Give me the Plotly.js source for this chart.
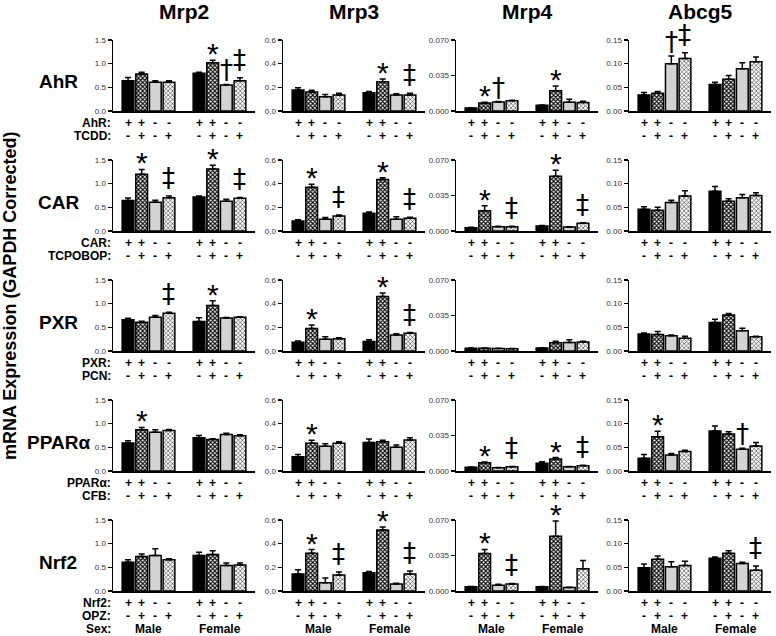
<!DOCTYPE html>
<html><head><meta charset="utf-8">
<script src="https://cdn.plot.ly/plotly-3.0.1.min.js"></script>
<style>body{margin:0;background:#fff}#chart{width:776px;height:636px}</style>
</head><body><div id="chart"></div>
<script>
// ---------- DATA ----------
const genes = ['Mrp2', 'Mrp3', 'Mrp4', 'Abcg5'];
const receptors = ['AhR', 'CAR', 'PXR', 'PPARα', 'Nrf2'];
const ligands = ['TCDD', 'TCPOBOP', 'PCN', 'CFB', 'OPZ'];
const sexes = ['Male', 'Female'];
const genotypeSigns = ['+', '+', '-', '-'];
const ligandSigns = ['-', '+', '-', '+'];
const yMax = [1.5, 0.6, 0.07, 0.15];
const yTickVals = [[0, 0.5, 1.0, 1.5], [0, 0.2, 0.4, 0.6], [0, 0.035, 0.07], [0, 0.05, 0.10, 0.15]];
const yTickText = [['0.0', '0.5', '1.0', '1.5'], ['0.0', '0.2', '0.4', '0.6'], ['0.000', '0.035', '0.070'], ['0.00', '0.05', '0.10', '0.15']];

// each inner array: 8 bars = Male (4 groups) then Female (4 groups); one inner array per gene
const AhR_mean = [
  [0.64, 0.78, 0.61, 0.61, 0.80, 1.02, 0.55, 0.64],
  [0.177, 0.16, 0.12, 0.135, 0.155, 0.248, 0.135, 0.135],
  [0.003, 0.008, 0.0089, 0.0102, 0.0056, 0.020, 0.0086, 0.0083],
  [0.034, 0.0375, 0.100, 0.111, 0.056, 0.067, 0.089, 0.104]];
const AhR_sem = [
  [0.07, 0.04, 0.03, 0.03, 0.02, 0.05, 0.01, 0.06],
  [0.02, 0.015, 0.02, 0.015, 0.01, 0.022, 0.01, 0.015],
  [0.0003, 0.0006, 0.0004, 0.0004, 0.0004, 0.0046, 0.0029, 0.0012],
  [0.005, 0.0035, 0.016, 0.012, 0.005, 0.008, 0.013, 0.010]];
const AhR_sig = [
  ['', '', '', '', '', '*', '†', '‡'],
  ['', '', '', '', '', '*', '', '‡'],
  ['', '*', '†', '', '', '*', '', ''],
  ['', '', '†', '‡', '', '', '', '']];

const CAR_mean = [
  [0.646, 1.20, 0.61, 0.70, 0.72, 1.31, 0.63, 0.69],
  [0.085, 0.37, 0.10, 0.127, 0.15, 0.435, 0.10, 0.107],
  [0.0033, 0.020, 0.0043, 0.0043, 0.005, 0.054, 0.004, 0.0076],
  [0.046, 0.044, 0.060, 0.074, 0.084, 0.063, 0.070, 0.075]];
const CAR_sem = [
  [0.05, 0.10, 0.04, 0.04, 0.02, 0.08, 0.04, 0.02],
  [0.01, 0.025, 0.015, 0.008, 0.01, 0.015, 0.02, 0.01],
  [0.0003, 0.005, 0.0003, 0.0003, 0.0003, 0.006, 0.0003, 0.0005],
  [0.005, 0.006, 0.005, 0.011, 0.010, 0.005, 0.007, 0.006]];
const CAR_sig = [
  ['', '*', '', '‡', '', '*', '', '‡'],
  ['', '*', '', '‡', '', '*', '', '‡'],
  ['', '*', '', '‡', '', '*', '', '‡'],
  ['', '', '', '', '', '', '', '']];

const PXR_mean = [
  [0.66, 0.61, 0.715, 0.80, 0.625, 0.96, 0.695, 0.715],
  [0.074, 0.19, 0.10, 0.104, 0.08, 0.46, 0.136, 0.15],
  [0.0027, 0.0027, 0.0025, 0.0022, 0.003, 0.0082, 0.0085, 0.0088],
  [0.036, 0.035, 0.032, 0.027, 0.060, 0.076, 0.043, 0.030]];
const PXR_sem = [
  [0.03, 0.02, 0.035, 0.02, 0.075, 0.10, 0.015, 0.01],
  [0.011, 0.03, 0.02, 0.008, 0.015, 0.03, 0.01, 0.006],
  [0.0003, 0.0003, 0.0002, 0.0002, 0.0003, 0.0014, 0.0025, 0.0008],
  [0.002, 0.006, 0.002, 0.004, 0.007, 0.003, 0.005, 0.001]];
const PXR_sig = [
  ['', '', '', '‡', '', '*', '', ''],
  ['', '*', '', '', '', '*', '', '‡'],
  ['', '', '', '', '', '', '', ''],
  ['', '', '', '', '', '', '', '']];

const PPARa_mean = [
  [0.59, 0.87, 0.82, 0.855, 0.70, 0.667, 0.77, 0.745],
  [0.12, 0.234, 0.21, 0.235, 0.24, 0.248, 0.20, 0.262],
  [0.0036, 0.0082, 0.0033, 0.0042, 0.0076, 0.0118, 0.0043, 0.0052],
  [0.027, 0.0725, 0.034, 0.041, 0.0845, 0.078, 0.046, 0.053]];
const PPARa_sem = [
  [0.05, 0.05, 0.05, 0.02, 0.05, 0.013, 0.03, 0.02],
  [0.02, 0.026, 0.02, 0.012, 0.03, 0.012, 0.02, 0.018],
  [0.0004, 0.0006, 0.0002, 0.0003, 0.0014, 0.0015, 0.0002, 0.0004],
  [0.008, 0.0115, 0.003, 0.003, 0.0105, 0.005, 0.002, 0.007]];
const PPARa_sig = [
  ['', '*', '', '', '', '', '', ''],
  ['', '*', '', '', '', '', '', ''],
  ['', '*', '', '‡', '', '*', '', '‡'],
  ['', '*', '', '', '', '', '†', '']];

const Nrf2_mean = [
  [0.61, 0.73, 0.75, 0.66, 0.75, 0.77, 0.54, 0.55],
  [0.144, 0.32, 0.07, 0.135, 0.155, 0.515, 0.06, 0.144],
  [0.0042, 0.037, 0.0056, 0.0069, 0.0042, 0.054, 0.0035, 0.022],
  [0.049, 0.067, 0.051, 0.054, 0.069, 0.080, 0.058, 0.044]];
const Nrf2_sem = [
  [0.05, 0.05, 0.14, 0.02, 0.07, 0.08, 0.05, 0.04],
  [0.036, 0.03, 0.04, 0.025, 0.01, 0.025, 0.005, 0.026],
  [0.0003, 0.004, 0.001, 0.0006, 0.0003, 0.015, 0.0003, 0.008],
  [0.008, 0.007, 0.011, 0.009, 0.003, 0.005, 0.003, 0.009]];
const Nrf2_sig = [
  ['', '', '', '', '', '', '', ''],
  ['', '*', '', '‡', '', '*', '', '‡'],
  ['', '*', '', '‡', '', '*', '', ''],
  ['', '', '', '', '', '', '', '‡']];

const allMeans = [AhR_mean, CAR_mean, PXR_mean, PPARa_mean, Nrf2_mean];
const allSems = [AhR_sem, CAR_sem, PXR_sem, PPARa_sem, Nrf2_sem];
const allSigs = [AhR_sig, CAR_sig, PXR_sig, PPARa_sig, Nrf2_sig];

// ---------- LAYOUT GEOMETRY ----------
const W = 776, H = 636;
const FONT = 'Arial, "Liberation Sans", Helvetica, sans-serif';
const SYMFONT = '"DejaVu Sans", "Liberation Sans", sans-serif';
const colLeft = [113, 283, 456, 629];
const panelW = 142;
const rowBottom = [111, 231, 351, 471, 591];
const panelH = 71;
const barX = [1, 2, 3, 4, 6.2, 7.2, 8.2, 9.2];
const barStyles = [
  {color: 'black'},
  {color: 'white', pattern: {shape: 'x', fgcolor: 'black', bgcolor: 'white', size: 3, solidity: 0.6}},
  {color: '#d3d3d3'},
  {color: 'white', pattern: {shape: 'x', fgcolor: 'black', bgcolor: 'white', size: 3, solidity: 0.3}}
];
const symStyle = {
  '*': {size: 30, shift: -12, fam: FONT},
  '†': {size: 26, shift: -3, fam: SYMFONT},
  '‡': {size: 26, shift: 1, fam: SYMFONT}
};

const data = [];
const annotations = [];
const layout = {
  width: W, height: H,
  margin: {l: 0, r: 0, t: 0, b: 0},
  paper_bgcolor: 'white', plot_bgcolor: 'white',
  showlegend: false, barmode: 'overlay',
  font: {family: FONT, color: 'black'},
  annotations: annotations
};

const px = v => v / W;
const py = v => 1 - v / H;

for (let r = 0; r < receptors.length; r++) {
  for (let c = 0; c < genes.length; c++) {
    const i = r * genes.length + c + 1;
    const sfx = i === 1 ? '' : String(i);
    const xa = 'x' + sfx, ya = 'y' + sfx;
    const mean = allMeans[r][c], sem = allSems[r][c], sig = allSigs[r][c];
    for (let t = 0; t < 4; t++) {
      const st = barStyles[t];
      const marker = {color: st.color, line: {color: 'black', width: 1.5}};
      if (st.pattern) marker.pattern = st.pattern;
      data.push({
        type: 'bar', xaxis: xa, yaxis: ya,
        x: [barX[t], barX[t + 4]], y: [mean[t], mean[t + 4]],
        width: 0.86, marker: marker, cliponaxis: false,
        error_y: {type: 'data', symmetric: false, array: [sem[t], sem[t + 4]], arrayminus: [0, 0],
                  color: 'black', thickness: 1.5, width: 3},
        hoverinfo: 'y'
      });
    }
    const L = colLeft[c], B = rowBottom[r];
    layout['xaxis' + sfx] = {
      domain: [px(L), px(L + panelW)], range: [-0.1, 10.3], anchor: ya,
      showline: true, linewidth: 2, linecolor: 'black', ticks: '', showticklabels: false,
      showgrid: false, zeroline: false, fixedrange: true
    };
    layout['yaxis' + sfx] = {
      domain: [py(B), py(B - panelH)], range: [0, yMax[c]], anchor: xa,
      tickmode: 'array', tickvals: yTickVals[c], ticktext: yTickText[c],
      ticks: 'outside', ticklen: 4, tickwidth: 1.5, tickcolor: 'black',
      showline: true, linewidth: 1.5, linecolor: 'black',
      showgrid: false, zeroline: false, fixedrange: true,
      tickfont: {size: 8, color: '#333', family: FONT}
    };
    // significance marks
    for (let j = 0; j < 8; j++) {
      if (!sig[j]) continue;
      const s = symStyle[sig[j]];
      annotations.push({
        xref: xa, yref: ya, x: barX[j], y: mean[j] + sem[j], text: sig[j],
        showarrow: false, yanchor: 'bottom', xanchor: 'center', yshift: s.shift,
        font: {size: s.size, family: s.fam, color: 'black'}
      });
    }
    // treatment sign rows
    for (let j = 0; j < 8; j++) {
      annotations.push({xref: xa, yref: 'paper', x: barX[j], y: py(B + 12), text: genotypeSigns[j % 4],
        showarrow: false, xanchor: 'center', yanchor: 'middle', font: {size: 12, weight: 'bold', family: FONT}});
      annotations.push({xref: xa, yref: 'paper', x: barX[j], y: py(B + 25), text: ligandSigns[j % 4],
        showarrow: false, xanchor: 'center', yanchor: 'middle', font: {size: 12, weight: 'bold', family: FONT}});
    }
    if (r === receptors.length - 1) {
      annotations.push({xref: xa, yref: 'paper', x: (barX[0] + barX[3]) / 2, y: py(B + 38), text: sexes[0],
        showarrow: false, xanchor: 'center', yanchor: 'middle', font: {size: 12, weight: 'bold', family: FONT}});
      annotations.push({xref: xa, yref: 'paper', x: (barX[4] + barX[7]) / 2, y: py(B + 38), text: sexes[1],
        showarrow: false, xanchor: 'center', yanchor: 'middle', font: {size: 12, weight: 'bold', family: FONT}});
    }
  }
  const B = rowBottom[r];
  // row labels
  annotations.push({xref: 'paper', yref: 'paper', x: px(58), y: py(B - 29), text: receptors[r],
    showarrow: false, xanchor: 'center', yanchor: 'middle', font: {size: 19, weight: 'bold', family: FONT}});
  annotations.push({xref: 'paper', yref: 'paper', x: px(113), y: py(B + 12), text: receptors[r] + ':',
    showarrow: false, xanchor: 'right', yanchor: 'middle', font: {size: 12, weight: 'bold', family: FONT}});
  annotations.push({xref: 'paper', yref: 'paper', x: px(113), y: py(B + 25), text: ligands[r] + ':',
    showarrow: false, xanchor: 'right', yanchor: 'middle', font: {size: 12, weight: 'bold', family: FONT}});
  if (r === receptors.length - 1) {
    annotations.push({xref: 'paper', yref: 'paper', x: px(113), y: py(B + 38), text: 'Sex:',
      showarrow: false, xanchor: 'right', yanchor: 'middle', font: {size: 12, weight: 'bold', family: FONT}});
  }
}
// column titles
for (let c = 0; c < genes.length; c++) {
  annotations.push({xref: 'paper', yref: 'paper', x: px(colLeft[c] + panelW / 2), y: py(12), text: genes[c],
    showarrow: false, xanchor: 'center', yanchor: 'middle', font: {size: 21, weight: 'bold', family: FONT}});
}
// y-axis title
annotations.push({xref: 'paper', yref: 'paper', x: px(10), y: py(296), text: 'mRNA Expression (GAPDH Corrected)',
  textangle: -90, showarrow: false, xanchor: 'center', yanchor: 'middle', font: {size: 18, weight: 'bold', family: FONT}});

Plotly.newPlot('chart', data, layout, {staticPlot: true, displayModeBar: false});
</script>
</body></html>
